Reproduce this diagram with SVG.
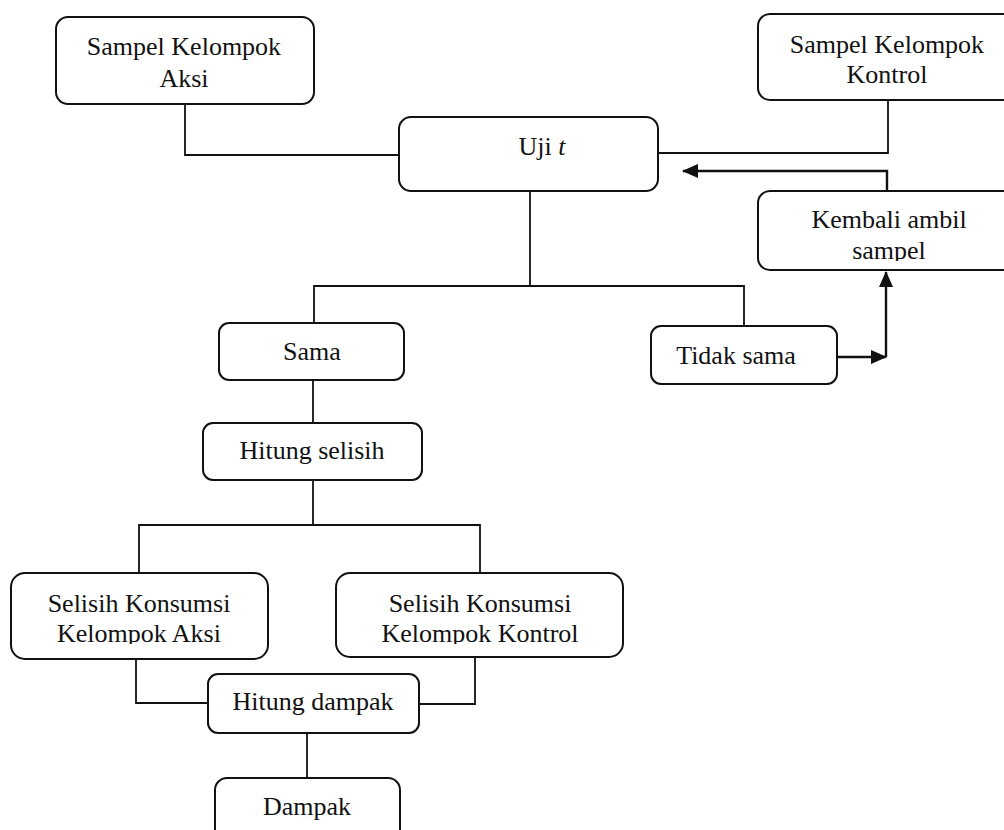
<svg xmlns="http://www.w3.org/2000/svg" width="1004" height="830" viewBox="0 0 1004 830">
<style>
.box{fill:none;stroke:#111;stroke-width:2}
.ln{fill:none;stroke:#111;stroke-width:1.8}
.ar{fill:none;stroke:#111;stroke-width:2.4}
text{font-family:"Liberation Serif","Times New Roman",serif;font-size:26px;fill:#111;text-anchor:middle}
</style>
<defs>
<marker id="ah" markerUnits="userSpaceOnUse" markerWidth="16" markerHeight="14" refX="15" refY="7" orient="auto">
<path d="M0,0 L16,7 L0,14 Z" fill="#111"/>
</marker>
<clipPath id="c1"><rect x="758" y="180" width="250" height="81"/></clipPath>
<clipPath id="c2"><rect x="0" y="560" width="280" height="84"/></clipPath>
<clipPath id="c3"><rect x="330" y="560" width="300" height="84"/></clipPath>
</defs>
<rect width="1004" height="830" fill="#fff"/>
<g id="connectors">
<path class="ln" d="M185,104 V155 H399"/>
<path class="ln" d="M888,100 V153 H658"/>
<path class="ar" d="M887,191 V171 H683" marker-end="url(#ah)"/>
<path class="ln" d="M530,191 V286"/>
<path class="ln" d="M314,323 V286 H744 V326"/>
<path class="ar" d="M837,357 H886" marker-end="url(#ah)"/>
<path class="ar" d="M886,357 V272" marker-end="url(#ah)"/>
<path class="ln" d="M313,380 V423"/>
<path class="ln" d="M313,480 V525"/>
<path class="ln" d="M139,573 V525 H480 V573"/>
<path class="ln" d="M136,659 V703 H208"/>
<path class="ln" d="M475,657 V704 H419"/>
<path class="ln" d="M307,733 V778"/>
</g>
<g id="n-aksi">
<rect class="box" x="56" y="17" width="258" height="87" rx="12"/>
<text x="184" y="55">Sampel Kelompok</text>
<text x="184" y="87">Aksi</text>
</g>
<g id="n-kontrol">
<rect class="box" x="758" y="14" width="260" height="86" rx="12"/>
<text x="887" y="53">Sampel Kelompok</text>
<text x="887" y="83">Kontrol</text>
</g>
<g id="n-uji">
<rect class="box" x="399" y="117" width="259" height="74" rx="12"/>
<text x="542" y="155">Uji <tspan font-style="italic">t</tspan></text>
</g>
<g id="n-kembali">
<rect class="box" x="758" y="191" width="260" height="79" rx="12"/>
<text x="889" y="228" font-size="25">Kembali ambil</text>
<text x="889" y="259" font-size="25" clip-path="url(#c1)">sampel</text>
</g>
<g id="n-sama">
<rect class="box" x="219" y="323" width="185" height="57" rx="10"/>
<text x="312" y="360">Sama</text>
</g>
<g id="n-tidak">
<rect class="box" x="651" y="326" width="186" height="58" rx="10"/>
<text x="736" y="364">Tidak sama</text>
</g>
<g id="n-hitung-selisih">
<rect class="box" x="203" y="423" width="219" height="57" rx="10"/>
<text x="312" y="459">Hitung selisih</text>
</g>
<g id="n-selisih-aksi">
<rect class="box" x="11" y="573" width="257" height="86" rx="14"/>
<text x="139" y="612">Selisih Konsumsi</text>
<text x="139" y="642" clip-path="url(#c2)">Kelompok Aksi</text>
</g>
<g id="n-selisih-kontrol">
<rect class="box" x="336" y="573" width="287" height="84" rx="14"/>
<text x="480" y="612">Selisih Konsumsi</text>
<text x="480" y="642" clip-path="url(#c3)">Kelompok Kontrol</text>
</g>
<g id="n-hitung-dampak">
<rect class="box" x="208" y="674" width="211" height="59" rx="10"/>
<text x="313" y="710">Hitung dampak</text>
</g>
<g id="n-dampak">
<rect class="box" x="215" y="778" width="185" height="70" rx="12"/>
<text x="307" y="815">Dampak</text>
</g>
</svg>
